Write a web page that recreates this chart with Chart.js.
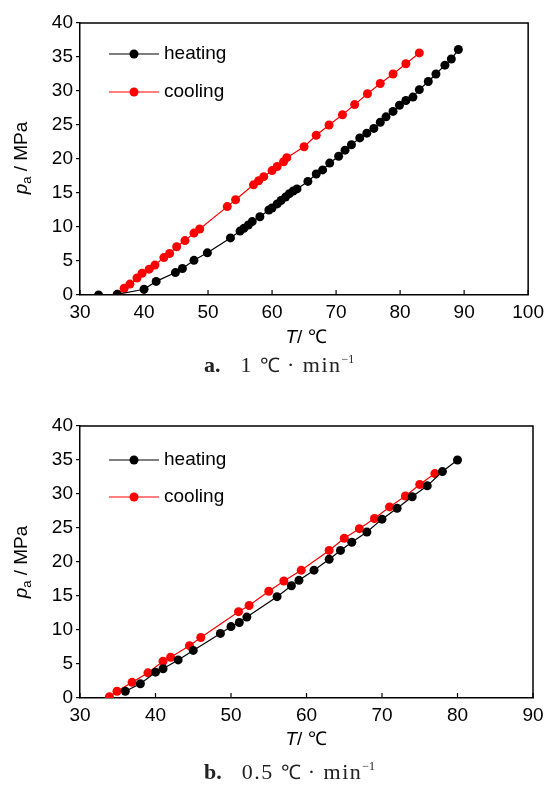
<!DOCTYPE html>
<html><head><meta charset="utf-8">
<script src="https://cdn.jsdelivr.net/npm/chart.js@4.4.1/dist/chart.umd.min.js"></script>
<style>
html,body{margin:0;padding:0;background:#fff;}
body{width:550px;height:785px;position:relative;overflow:hidden;}
.box{position:absolute;left:0;width:550px;height:325px;}
.sans{font-family:'Liberation Sans',Arial,sans-serif;font-size:19px;color:#000;}
.xt{position:absolute;transform:translate(-50%,-50%);white-space:nowrap;}
.yt{position:absolute;transform:translate(-50%,-50%) rotate(-90deg);white-space:nowrap;}
.yt sub{font-size:13px;vertical-align:-4px;}
.cap{position:absolute;font-family:'Liberation Serif','DejaVu Serif',serif;font-size:22px;color:#222;white-space:nowrap;transform:translateY(-50%);letter-spacing:1.5px;}
.cap b{margin-right:20px;letter-spacing:0;}
.cap .u{font-family:'Liberation Sans',Arial,sans-serif;font-size:20px;letter-spacing:0;}
.cap sup{font-size:12px;vertical-align:9px;letter-spacing:0;}
</style></head>
<body>
<div class="box" style="top:0px"><canvas id="ca"></canvas></div>
<div class="box" style="top:403px"><canvas id="cb"></canvas></div>
<div class="xt sans" style="left:306px;top:336px"><i>T</i>/ ℃</div>
<div class="xt sans" style="left:306px;top:738px"><i>T</i>/ ℃</div>
<div class="yt sans" style="left:22px;top:158px"><i>p</i><sub>a</sub> / MPa</div>
<div class="yt sans" style="left:22px;top:562px"><i>p</i><sub>a</sub> / MPa</div>
<div class="cap" style="left:204px;top:364px"><b>a.</b>1 <span class="u">℃</span> · min<sup>−1</sup></div>
<div class="cap" style="left:204px;top:771px"><b>b.</b>0.5 <span class="u">℃</span> · min<sup>−1</sup></div>
<script>
// ---- data: (a) 1 ℃/min ----
const heatA_T = [32.9, 35.8, 40.0, 41.9, 44.9, 46.0, 47.8, 49.9, 53.5, 55.0, 55.6, 56.3, 56.9, 58.1, 59.5, 60.0, 60.8, 61.4, 62.1, 62.7, 63.3, 63.9, 65.6, 66.9, 67.9, 69.0, 70.4, 71.4, 72.4, 73.7, 74.8, 75.9, 76.9, 77.8, 78.9, 79.9, 80.9, 82.0, 83.0, 84.4, 85.6, 87.0, 88.0, 89.1];
const heatA_p = [0.0, 0.1, 0.85, 2.0, 3.3, 3.9, 5.1, 6.2, 8.4, 9.4, 9.8, 10.3, 10.8, 11.5, 12.5, 12.8, 13.4, 13.9, 14.4, 14.9, 15.3, 15.6, 16.7, 17.8, 18.4, 19.4, 20.4, 21.3, 22.1, 23.1, 23.8, 24.5, 25.4, 26.2, 27.0, 27.9, 28.6, 29.1, 30.2, 31.4, 32.5, 33.8, 34.7, 36.1];
const coolA_T = [35.9, 36.9, 37.8, 38.9, 39.7, 40.8, 41.7, 43.1, 44.0, 45.1, 46.4, 47.8, 48.7, 53.0, 54.3, 57.1, 57.9, 58.7, 60.0, 60.8, 61.8, 62.3, 65.0, 66.9, 68.9, 71.0, 72.9, 74.9, 76.9, 78.9, 80.9, 83.0];
const coolA_p = [0.1, 1.0, 1.6, 2.5, 3.2, 3.8, 4.4, 5.5, 6.1, 7.1, 8.0, 9.1, 9.7, 13.0, 14.0, 16.2, 16.8, 17.4, 18.3, 18.9, 19.6, 20.2, 21.8, 23.5, 25.0, 26.5, 28.0, 29.6, 31.1, 32.5, 34.0, 35.6];
// ---- data: (b) 0.5 ℃/min ----
const heatB_T = [36.0, 38.0, 40.0, 41.0, 43.0, 45.0, 48.6, 50.0, 51.1, 52.1, 56.1, 58.0, 59.0, 61.0, 63.0, 64.5, 66.0, 68.0, 70.0, 72.0, 74.0, 76.0, 78.0, 80.0];
const heatB_p = [1.0, 2.1, 3.8, 4.3, 5.6, 7.0, 9.5, 10.5, 11.1, 11.9, 14.9, 16.5, 17.3, 18.8, 20.4, 21.7, 22.9, 24.4, 26.3, 27.9, 29.6, 31.2, 33.3, 35.0];
const coolB_T = [33.9, 34.9, 36.9, 39.0, 41.0, 42.0, 44.5, 46.0, 51.0, 52.4, 55.0, 57.0, 59.3, 63.0, 65.0, 67.0, 69.0, 71.0, 73.1, 75.0, 77.0];
const coolB_p = [0.2, 1.0, 2.3, 3.7, 5.4, 6.0, 7.7, 8.9, 12.7, 13.6, 15.7, 17.2, 18.8, 21.7, 23.5, 24.9, 26.4, 28.1, 29.7, 31.4, 33.0];
const seriesNames = ['heating', 'cooling'];
const xMaxA = 100, xMaxB = 90, yMax = 40;

const FONT = "'Liberation Sans',Arial,sans-serif";
const FS = 19;
const zip = (a, b) => a.map((v, i) => ({x: v, y: b[i]}));

const framePlugin = {
  id: 'frame',
  afterDraw(chart, args, opts) {
    const {ctx, chartArea: a, scales: {x}} = chart;
    ctx.save();
    ctx.strokeStyle = '#000';
    ctx.lineWidth = 1.5;
    ctx.beginPath();
    ctx.moveTo(a.left, a.top); ctx.lineTo(a.right, a.top); ctx.lineTo(a.right, a.bottom);
    ctx.stroke();
    ctx.lineWidth = 1.2;
    x.ticks.forEach(t => {
      const px = x.getPixelForValue(t.value);
      ctx.beginPath(); ctx.moveTo(px, a.bottom); ctx.lineTo(px, a.bottom - 5); ctx.stroke();
    });
    // legend
    const ys = opts.legendY;
    chart.data.datasets.forEach((ds, i) => {
      const y = a.top + ys[i];
      const x0 = a.left + 29, x1 = a.left + 79, xm = a.left + 54;
      ctx.strokeStyle = ds.borderColor; ctx.lineWidth = 1.2;
      ctx.beginPath(); ctx.moveTo(x0, y); ctx.lineTo(x1, y); ctx.stroke();
      ctx.fillStyle = ds.pointBackgroundColor;
      ctx.beginPath(); ctx.arc(xm, y, 4.5, 0, Math.PI * 2); ctx.fill();
      ctx.fillStyle = '#000';
      ctx.font = FS + 'px ' + FONT;
      ctx.textBaseline = 'middle';
      ctx.textAlign = 'left';
      ctx.fillText(ds.label, a.left + 84, y);
    });
    ctx.restore();
  }
};

function makeChart(id, hT, hP, cT, cP, xMax, legendY) {
  const mk = (label, T, P, col) => ({
    label, data: zip(T, P), showLine: true,
    borderColor: col, borderWidth: 1.2,
    pointBackgroundColor: col, pointBorderWidth: 0,
    pointRadius: 4.5, pointHoverRadius: 4.5
  });
  return new Chart(document.getElementById(id), {
    type: 'scatter',
    data: {datasets: [mk(seriesNames[0], hT, hP, '#000000'), mk(seriesNames[1], cT, cP, '#ff0000')]},
    options: {
      responsive: true, maintainAspectRatio: false, animation: false,
      events: [],
      layout: {padding: {top: 23, right: 17, left: 0, bottom: 0}},
      plugins: {legend: {display: false}, tooltip: {enabled: false}, frame: {legendY}},
      scales: {
        x: {
          type: 'linear', min: 30, max: xMax,
          ticks: {stepSize: 10, color: '#000', padding: 6, font: {family: FONT, size: FS}},
          grid: {display: true, drawOnChartArea: false, drawTicks: false},
          border: {display: true, color: '#000', width: 1.5},
          afterFit(s) { s.height = 30; }
        },
        y: {
          min: 0, max: yMax,
          ticks: {stepSize: 5, color: '#000', padding: 3, font: {family: FONT, size: FS}},
          grid: {display: true, drawOnChartArea: false, drawTicks: true, tickLength: 4, color: '#000', lineWidth: 1.2},
          border: {display: true, color: '#000', width: 1.5},
          afterFit(s) { s.width = 80; }
        }
      }
    },
    plugins: [framePlugin]
  });
}
makeChart('ca', heatA_T, heatA_p, coolA_T, coolA_p, xMaxA, [31, 69]);
makeChart('cb', heatB_T, heatB_p, coolB_T, coolB_p, xMaxB, [34, 71]);
</script>
</body></html>
